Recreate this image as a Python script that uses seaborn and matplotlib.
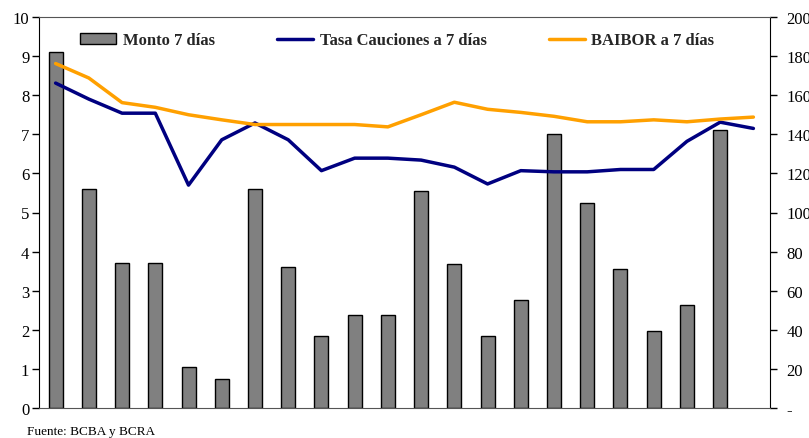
import pandas as pd
import matplotlib.pyplot as plt
import seaborn as sns

# datos (22 semanas, la ultima sin monto)
semanas = list(range(22))
monto = [182, 112, 74, 74, 21, 15, 112, 72, 37, 47.5, 47.5, 111, 73.5, 37, 55,
         140, 105, 71, 39.5, 52.5, 142, None]
tasa_cauciones = [8.31, 7.90, 7.54, 7.54, 5.70, 6.86, 7.29, 6.86, 6.07, 6.39, 6.39,
                  6.34, 6.16, 5.73, 6.07, 6.04, 6.04, 6.10, 6.10, 6.82, 7.31, 7.15]
baibor = [8.81, 8.44, 7.81, 7.69, 7.50, 7.37, 7.25, 7.25, 7.25, 7.25, 7.19,
          7.50, 7.82, 7.64, 7.56, 7.46, 7.32, 7.32, 7.37, 7.32, 7.39, 7.44]
ticks_izq = list(range(0, 11))
ticks_der = list(range(0, 201, 20))
labels_der = ['-'] + [str(t) for t in ticks_der[1:]]

df = pd.DataFrame({'semana': semanas, 'monto': monto,
                   'tasa': tasa_cauciones, 'baibor': baibor})

sns.set_style('white')
plt.rcParams['font.family'] = ['Liberation Serif', 'DejaVu Serif']

fig = plt.figure(figsize=(8.09, 4.39), dpi=100)
ax = fig.add_axes([39/809, 30/439, 731/809, 391/439])
ax2 = ax.twinx()

# barras en el eje derecho (monto)
sns.barplot(data=df.dropna(), x='semana', y='monto', ax=ax2, color='#808080',
            saturation=1, width=0.42, edgecolor='black', linewidth=1,
            label='Monto 7 días')
# lineas en el eje izquierdo (tasas)
sns.lineplot(data=df, x='semana', y='tasa', ax=ax, color='#000080',
             linewidth=2.5, label='Tasa Cauciones a 7 días')
sns.lineplot(data=df, x='semana', y='baibor', ax=ax, color='#FFA000',
             linewidth=2.5, label='BAIBOR a 7 días')

ax.set_zorder(ax2.get_zorder() + 1)
ax.patch.set_visible(False)

ax.set_xlim(-0.5, 21.5)
ax.set_ylim(0, 10)
ax2.set_ylim(0, 200)
ax.set_yticks(ticks_izq)
ax2.set_yticks(ticks_der)
ax2.set_yticklabels(labels_der)
ax.set_xticks([])
ax2.set_xticks([])
for a in (ax, ax2):
    a.set_xlabel('')
    a.set_ylabel('')
    a.tick_params(axis='y', direction='out', length=5, width=1, labelsize=12,
                  colors='black')
    a.tick_params(axis='x', length=0)
    for s in a.spines.values():
        s.set_visible(False)

ax.spines['left'].set_visible(True)
ax.spines['left'].set_color('black')
ax2.spines['right'].set_visible(True)
ax2.spines['right'].set_color('black')
ax.spines['top'].set_visible(True)
ax.spines['top'].set_color('#555555')
ax.spines['bottom'].set_visible(True)
ax.spines['bottom'].set_color('#555555')
ax.tick_params(axis='y', left=True, right=False, pad=2)
ax2.tick_params(axis='y', right=True, left=False, pad=7)

h1, l1 = ax2.get_legend_handles_labels()
h2, l2 = ax.get_legend_handles_labels()
if ax2.get_legend():
    ax2.get_legend().remove()
ax.legend(h1 + h2, l1 + l2, loc='center', bbox_to_anchor=(0.49, 0.94), ncol=3,
          frameon=False, prop={'weight': 'bold', 'size': 12}, handlelength=2.15,
          columnspacing=3.75, handletextpad=0.4)

fig.text(27/809, 1 - 435/439, 'Fuente: BCBA y BCRA', fontsize=9.5,
         color='black', va='baseline')

fig.savefig('out.png', dpi=100)
